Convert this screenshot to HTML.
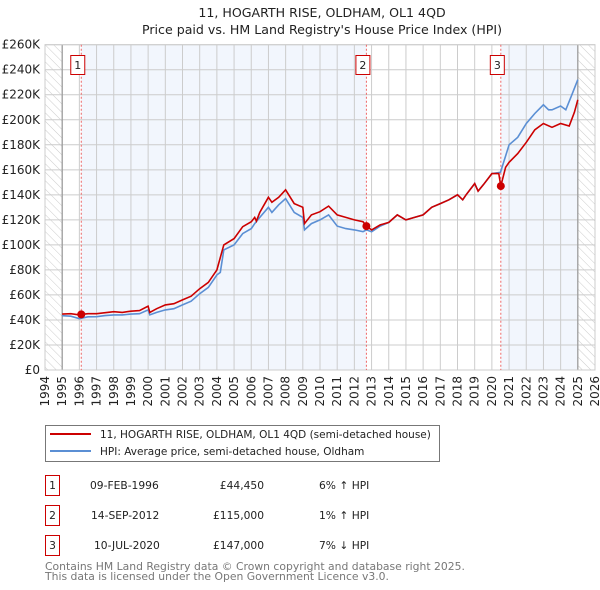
<!DOCTYPE html>
<html><head><meta charset="utf-8"><style>
body{margin:0;background:#fff;}
svg{display:block;font-family:"DejaVu Sans","Liberation Sans",sans-serif;}
</style></head><body>
<svg id="chart" width="600" height="590" viewBox="0 0 600 590">
<defs>
<pattern id="hatch" width="6" height="6" patternUnits="userSpaceOnUse" patternTransform="rotate(-45)">
<line x1="0" y1="0" x2="0" y2="6" stroke="#ccc" stroke-width="1"/>
</pattern>
</defs>
<text x="322" y="17" text-anchor="middle" font-size="12.6" fill="#222">11, HOGARTH RISE, OLDHAM, OL1 4QD</text>
<text x="322" y="34" text-anchor="middle" font-size="12.6" fill="#222">Price paid vs. HM Land Registry's House Price Index (HPI)</text>
<g id="plot"></g>
<g>
<rect x="45.5" y="425.5" width="394" height="36" fill="#fff" stroke="#777"/>
<line x1="50" y1="434" x2="91" y2="434" stroke="#cc0000" stroke-width="2"/>
<text x="100" y="438" font-size="10.5" fill="#222">11, HOGARTH RISE, OLDHAM, OL1 4QD (semi-detached house)</text>
<line x1="50" y1="451" x2="91" y2="451" stroke="#5b8fd4" stroke-width="2"/>
<text x="100" y="455" font-size="10.5" fill="#222">HPI: Average price, semi-detached house, Oldham</text>
</g>
<g font-size="10.7" fill="#222">
<rect x="45.5" y="475.5" width="14" height="20" fill="#fff" stroke="#cc0000"/><text x="52.5" y="489" text-anchor="middle">1</text>
<text x="90" y="489">09-FEB-1996</text><text x="264" y="489" text-anchor="end">£44,450</text><text x="319" y="489">6% ↑ HPI</text>
<rect x="45.5" y="505.5" width="14" height="20" fill="#fff" stroke="#cc0000"/><text x="52.5" y="519" text-anchor="middle">2</text>
<text x="91" y="519">14-SEP-2012</text><text x="264" y="519" text-anchor="end">£115,000</text><text x="319" y="519">1% ↑ HPI</text>
<rect x="45.5" y="535.5" width="14" height="20" fill="#fff" stroke="#cc0000"/><text x="52.5" y="549" text-anchor="middle">3</text>
<text x="94" y="549">10-JUL-2020</text><text x="264" y="549" text-anchor="end">£147,000</text><text x="319" y="549">7% ↓ HPI</text>
</g>
<text x="45" y="570" font-size="10.8" fill="#777">Contains HM Land Registry data © Crown copyright and database right 2025.</text>
<text x="45" y="580" font-size="10.8" fill="#777">This data is licensed under the Open Government Licence v3.0.</text>
</svg>
<script>
const hpiYears=[1995,1995.5,1996,1996.5,1997,1997.5,1998,1998.5,1999,1999.5,2000,2000.1,2000.5,2001,2001.5,2002,2002.5,2003,2003.5,2004,2004.2,2004.4,2005,2005.5,2006,2006.2,2006.5,2007,2007.2,2007.6,2008,2008.5,2009,2009.1,2009.5,2010,2010.5,2011,2011.5,2012,2012.5,2012.7,2013,2013.5,2014,2014.5,2015,2015.5,2016,2016.5,2017,2017.5,2018,2018.3,2018.5,2019,2019.2,2019.5,2020,2020.5,2021,2021.5,2022,2022.5,2023,2023.3,2023.5,2024,2024.3,2024.6,2025];
const hpiValues=[43.4,43,41,42.5,42.6,43.5,44,44,44.7,45,48,44,46,48,49,52,55,61,66,76,78,96,100,109,113,117,122,130,126,132,137,126,122,112,117,120,124,115,113,112,110.5,112,110.5,115,118,124,120,122,124,130,133,136,140,136,140,149,143,148,157,158,180,186,197,205,212,208,208,211,208,218,232];
const priceYears=[1995,1995.5,1996,1996.11,1996.5,1997,1997.5,1998,1998.5,1999,1999.5,2000,2000.1,2000.5,2001,2001.5,2002,2002.5,2003,2003.5,2004,2004.4,2005,2005.5,2006,2006.2,2006.3,2006.5,2007,2007.2,2007.6,2008,2008.5,2009,2009.1,2009.5,2010,2010.5,2011,2011.5,2012,2012.5,2012.7,2013,2013.5,2014,2014.5,2015,2015.5,2016,2016.5,2017,2017.5,2018,2018.3,2018.5,2019,2019.2,2019.5,2020,2020.4,2020.52,2020.8,2021,2021.5,2022,2022.5,2023,2023.5,2024,2024.5,2024.8,2025];
const priceValues=[44.7,45,44,44.45,45,45,45.8,46.6,46,47,47.5,51,46,49,52,53,56,59,65,70,80,100,105,114.5,118.5,122,119,126,138,134,138,144,133,130,117,124,126.5,131,124,122,120,118.5,115,112,116,118,124,120,122,124,130,133,136,140,136,140,149,143,148,157,157,147,162,166,173,182,192,197,194,197,195,206,216];
const saleYears=[1996.11,2012.70,2020.52];
const saleValues=[44.45,115,147];
const saleLabels=["1","2","3"];
const yTicks=[0,20,40,60,80,100,120,140,160,180,200,220,240,260];
const yTickLabels=["£0","£20K","£40K","£60K","£80K","£100K","£120K","£140K","£160K","£180K","£200K","£220K","£240K","£260K"];
const xTicks=[1994,1995,1996,1997,1998,1999,2000,2001,2002,2003,2004,2005,2006,2007,2008,2009,2010,2011,2012,2013,2014,2015,2016,2017,2018,2019,2020,2021,2022,2023,2024,2025,2026];

const X0=45,X1=595,Y0=370,Y1=44.7;
const xs=y=>X0+(y-1994)*(X1-X0)/32;
const ys=v=>Y0-v*(Y0-Y1)/260;
const NS="http://www.w3.org/2000/svg";
const plot=document.getElementById('plot');
function mk(tag,attrs,parent){const e=document.createElementNS(NS,tag);for(const k in attrs)e.setAttribute(k,attrs[k]);(parent||plot).appendChild(e);return e;}

let b=mk('rect',{x:xs(saleYears[0]),y:Y1,width:xs(saleYears[1])-xs(saleYears[0]),height:Y0-Y1,fill:'#f2f6fd'});


b=mk('rect',{x:xs(saleYears[2]),y:Y1,width:xs(2025)-xs(saleYears[2]),height:Y0-Y1,fill:'#f2f6fd'});


b=mk('rect',{x:xs(1994),y:Y1,width:xs(1995)-xs(1994),height:Y0-Y1,fill:'url(#hatch)'});


b=mk('rect',{x:xs(2025),y:Y1,width:xs(2026)-xs(2025),height:Y0-Y1,fill:'url(#hatch)'});



yTicks.forEach((t,i)=>{
  mk('line',{x1:X0,x2:X1,y1:ys(t),y2:ys(t),stroke:'#ccc','stroke-width':1});
  const tx=mk('text',{x:X0-5,y:ys(t)+4,'text-anchor':'end','font-size':12,fill:'#222'});
  tx.textContent=yTickLabels[i];
  
  
});
xTicks.forEach(t=>{
  mk('line',{x1:xs(t),x2:xs(t),y1:Y1,y2:Y0,stroke:'#ccc','stroke-width':1});
  const tx=mk('text',{x:0,y:0,'text-anchor':'end','font-size':12,fill:'#222',transform:`translate(${xs(t)+4},${Y0+6}) rotate(-90)`});
  tx.textContent=t;
  
  
});
mk('line',{x1:xs(1995),x2:xs(1995),y1:Y1,y2:Y0,stroke:'#999','stroke-width':1.2});
mk('line',{x1:xs(2025),x2:xs(2025),y1:Y1,y2:Y0,stroke:'#999','stroke-width':1.2});
mk('rect',{x:X0,y:Y1,width:X1-X0,height:Y0-Y1,fill:'none',stroke:'#ccc'});

saleYears.forEach((s,i)=>{
  mk('line',{x1:xs(s),x2:xs(s),y1:Y1,y2:Y0,stroke:'#e66','stroke-width':1,'stroke-dasharray':'2,2'});
});

const pts=(a,v)=>a.map((y,i)=>xs(y).toFixed(1)+','+ys(v[i]).toFixed(1)).join(' ');
let l=mk('polyline',{points:pts(hpiYears,hpiValues),fill:'none',stroke:'#5b8fd4','stroke-width':1.6});


l=mk('polyline',{points:pts(priceYears,priceValues),fill:'none',stroke:'#cc0000','stroke-width':1.6});



saleYears.forEach((s,i)=>{
  const c=mk('circle',{cx:xs(s),cy:ys(saleValues[i]),r:4,fill:'#cc0000'});
  
  
  const bx=mk('rect',{x:xs(s)-10.5,y:55.5,width:14,height:19,fill:'#fff',stroke:'#cc0000'});
  
  
  const t=mk('text',{x:xs(s)-3.5,y:69,'text-anchor':'middle','font-size':11,fill:'#222'});
  t.textContent=saleLabels[i];
});
</script>
</body></html>
